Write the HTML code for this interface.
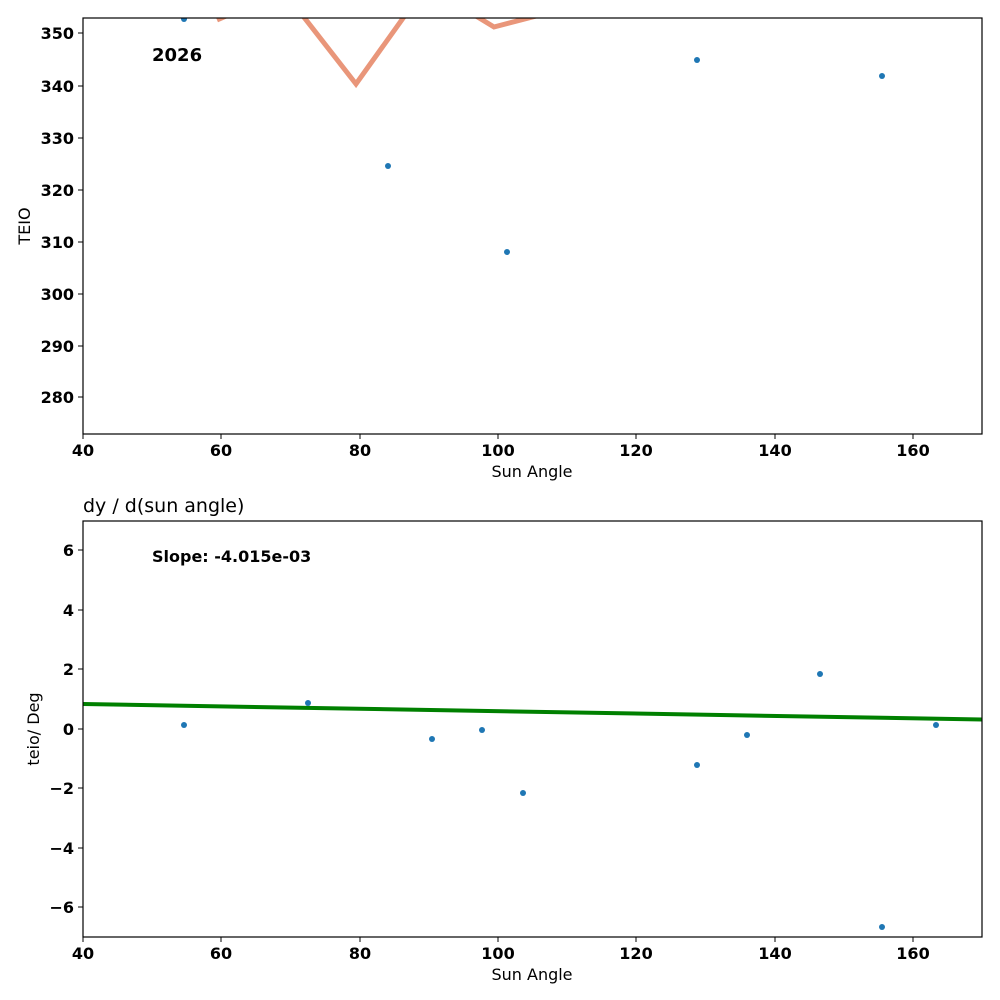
<!DOCTYPE html>
<html><head><style>body{margin:0;background:#fff}svg{display:block}text{font-family:"DejaVu Sans","Liberation Sans",sans-serif}</style></head><body>
<svg width="1000" height="1000" viewBox="0 0 1000 1000" xmlns="http://www.w3.org/2000/svg">
<defs>
<clipPath id="c1"><rect x="83" y="18" width="899" height="416"/></clipPath>
<clipPath id="c2"><rect x="83" y="521" width="899" height="416"/></clipPath>
</defs>
<g clip-path="url(#c1)">
<polyline points="217,20 240,10" fill="none" stroke="#e9967a" stroke-width="5"/>
<polyline points="290,0 303,16 356,84 406,14 420,0" fill="none" stroke="#e9967a" stroke-width="5"/>
<polyline points="460,0 476,16 494,27 540,15 560,8" fill="none" stroke="#e9967a" stroke-width="5"/>
<g fill="#1f77b4">
<circle cx="184" cy="19" r="3"/><circle cx="388" cy="166" r="3"/><circle cx="507" cy="252" r="3"/><circle cx="697" cy="60" r="3"/><circle cx="882" cy="76" r="3"/>
</g>
</g>
<rect x="83" y="18" width="899" height="416" fill="none" stroke="#000" stroke-width="1.2"/>
<text x="152" y="61" font-size="18" font-weight="bold">2026</text>
<g stroke="#000" stroke-width="1">
<line x1="83" y1="434" x2="83" y2="439"/><line x1="221" y1="434" x2="221" y2="439"/><line x1="360" y1="434" x2="360" y2="439"/><line x1="498" y1="434" x2="498" y2="439"/><line x1="636" y1="434" x2="636" y2="439"/><line x1="775" y1="434" x2="775" y2="439"/><line x1="913" y1="434" x2="913" y2="439"/>
<line x1="78" y1="33" x2="83" y2="33"/><line x1="78" y1="86" x2="83" y2="86"/><line x1="78" y1="138" x2="83" y2="138"/><line x1="78" y1="190" x2="83" y2="190"/><line x1="78" y1="242" x2="83" y2="242"/><line x1="78" y1="294" x2="83" y2="294"/><line x1="78" y1="346" x2="83" y2="346"/><line x1="78" y1="397" x2="83" y2="397"/>
</g>
<g font-size="16" font-weight="bold" text-anchor="middle">
<text x="83" y="456">40</text><text x="221" y="456">60</text><text x="360" y="456">80</text><text x="498" y="456">100</text><text x="636" y="456">120</text><text x="775" y="456">140</text><text x="913" y="456">160</text>
</g>
<g font-size="16" font-weight="bold" text-anchor="end">
<text x="74" y="39">350</text><text x="74" y="92">340</text><text x="74" y="144">330</text><text x="74" y="196">320</text><text x="74" y="248">310</text><text x="74" y="300">300</text><text x="74" y="352">290</text><text x="74" y="403">280</text>
</g>
<text x="532" y="477" font-size="16" text-anchor="middle">Sun Angle</text>
<text x="30" y="226" font-size="16" text-anchor="middle" transform="rotate(-90 30 226)">TEIO</text>

<text x="83" y="512" font-size="19">dy / d(sun angle)</text>
<g clip-path="url(#c2)">
<line x1="83" y1="704" x2="982" y2="719.5" stroke="#008000" stroke-width="4"/>
<g fill="#1f77b4">
<circle cx="184" cy="725" r="3"/><circle cx="308" cy="703" r="3"/><circle cx="432" cy="739" r="3"/><circle cx="482" cy="730" r="3"/><circle cx="523" cy="793" r="3"/><circle cx="697" cy="765" r="3"/><circle cx="747" cy="735" r="3"/><circle cx="820" cy="674" r="3"/><circle cx="882" cy="927" r="3"/><circle cx="936" cy="725" r="3"/>
</g>
</g>
<rect x="83" y="521" width="899" height="416" fill="none" stroke="#000" stroke-width="1.2"/>
<text x="152" y="562" font-size="16" font-weight="bold">Slope: -4.015e-03</text>
<g stroke="#000" stroke-width="1">
<line x1="83" y1="937" x2="83" y2="942"/><line x1="221" y1="937" x2="221" y2="942"/><line x1="360" y1="937" x2="360" y2="942"/><line x1="498" y1="937" x2="498" y2="942"/><line x1="636" y1="937" x2="636" y2="942"/><line x1="775" y1="937" x2="775" y2="942"/><line x1="913" y1="937" x2="913" y2="942"/>
<line x1="78" y1="550" x2="83" y2="550"/><line x1="78" y1="610" x2="83" y2="610"/><line x1="78" y1="669" x2="83" y2="669"/><line x1="78" y1="729" x2="83" y2="729"/><line x1="78" y1="788" x2="83" y2="788"/><line x1="78" y1="848" x2="83" y2="848"/><line x1="78" y1="907" x2="83" y2="907"/>
</g>
<g font-size="16" font-weight="bold" text-anchor="middle">
<text x="83" y="959">40</text><text x="221" y="959">60</text><text x="360" y="959">80</text><text x="498" y="959">100</text><text x="636" y="959">120</text><text x="775" y="959">140</text><text x="913" y="959">160</text>
</g>
<g font-size="16" font-weight="bold" text-anchor="end">
<text x="74" y="556">6</text><text x="74" y="616">4</text><text x="74" y="675">2</text><text x="74" y="735">0</text><text x="74" y="794">−2</text><text x="74" y="854">−4</text><text x="74" y="913">−6</text>
</g>
<text x="532" y="980" font-size="16" text-anchor="middle">Sun Angle</text>
<text x="39" y="729" font-size="16" text-anchor="middle" transform="rotate(-90 39 729)">teio/ Deg</text>
</svg>
</body></html>
